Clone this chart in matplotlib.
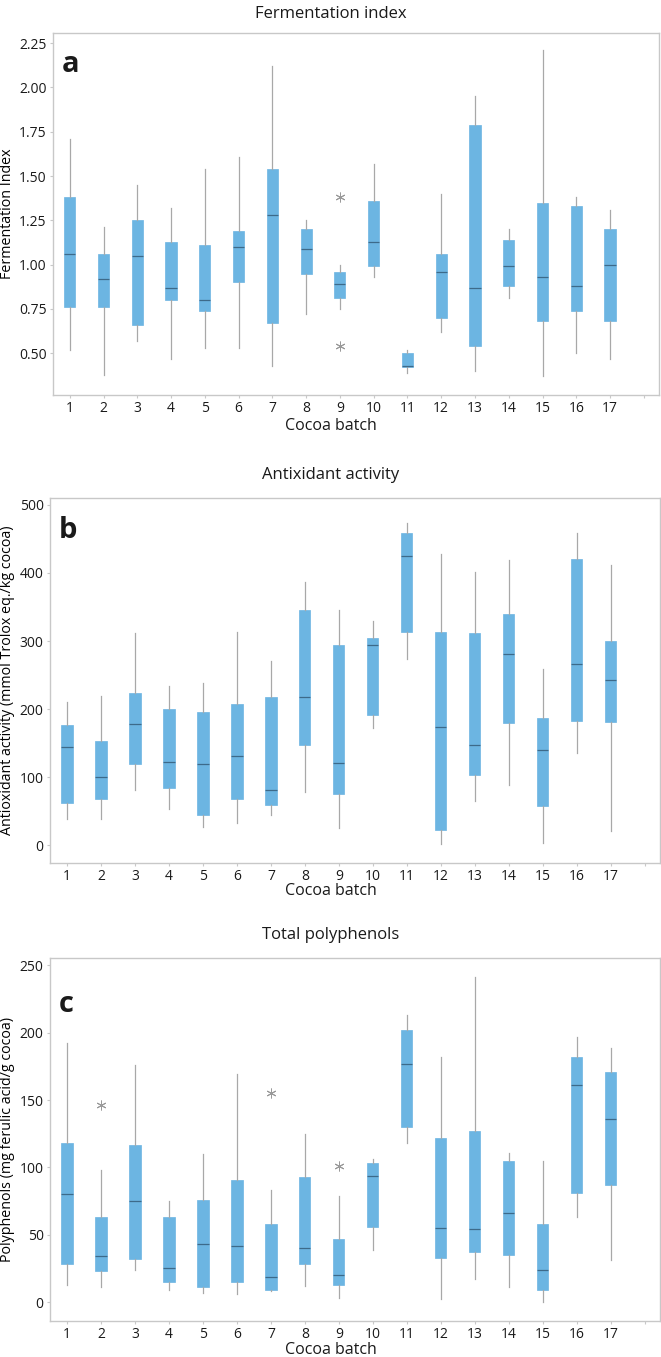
import matplotlib
matplotlib.use('Agg')
import matplotlib.pyplot as plt

batches = list(range(1, 18))

# Fermentation index: whisker low, Q1, median, Q3, whisker high
fi_wlo = [0.52, 0.38, 0.57, 0.47, 0.53, 0.53, 0.43, 0.72, 0.75, 0.93, 0.39, 0.62, 0.40, 0.81, 0.37, 0.50, 0.47]
fi_q1 = [0.76, 0.76, 0.66, 0.80, 0.74, 0.90, 0.67, 0.95, 0.81, 0.99, 0.42, 0.70, 0.54, 0.88, 0.68, 0.74, 0.68]
fi_med = [1.06, 0.92, 1.05, 0.87, 0.80, 1.10, 1.28, 1.09, 0.89, 1.13, 0.43, 0.96, 0.87, 0.99, 0.93, 0.88, 1.00]
fi_q3 = [1.38, 1.06, 1.25, 1.13, 1.11, 1.19, 1.54, 1.20, 0.96, 1.36, 0.50, 1.06, 1.79, 1.14, 1.35, 1.33, 1.20]
fi_whi = [1.71, 1.21, 1.45, 1.32, 1.54, 1.61, 2.12, 1.25, 1.00, 1.57, 0.52, 1.40, 1.95, 1.20, 2.21, 1.38, 1.31]
fi_out = {9: [1.38, 0.54]}

# Antioxidant activity
aa_wlo = [39, 39, 81, 53, 27, 33, 44, 79, 26, 173, 274, 2, 65, 88, 3, 135, 21]
aa_q1 = [62, 68, 119, 84, 44, 68, 59, 147, 75, 191, 313, 23, 103, 180, 58, 183, 181]
aa_med = [145, 101, 178, 122, 119, 131, 81, 218, 121, 294, 425, 174, 147, 281, 140, 266, 243]
aa_q3 = [177, 153, 224, 200, 196, 208, 218, 345, 294, 304, 458, 314, 312, 340, 187, 420, 300]
aa_whi = [211, 220, 312, 234, 239, 314, 271, 386, 346, 330, 473, 428, 401, 419, 259, 459, 411]
aa_out = {}

# Total polyphenols
tp_wlo = [13, 11, 24, 9, 7, 6, 8, 12, 3, 39, 118, 2, 17, 11, 0, 63, 31]
tp_q1 = [28, 23, 32, 15, 11, 15, 9, 28, 13, 56, 130, 33, 37, 35, 9, 81, 87]
tp_med = [80, 34, 75, 25, 43, 42, 19, 40, 20, 94, 177, 55, 54, 66, 24, 161, 136]
tp_q3 = [118, 63, 117, 63, 76, 91, 58, 93, 47, 103, 202, 122, 127, 105, 58, 182, 171]
tp_whi = [192, 98, 176, 75, 110, 169, 83, 125, 79, 106, 213, 182, 241, 111, 105, 197, 189]
tp_out = {2: [146], 7: [155], 9: [101]}

BOX = '#6cb5e2'
MED = '#3d6a8a'
WHISK = '#a8a8a8'
FRAME = '#c8c8c8'
FONT = 'Open Sans'

plt.rcParams['font.family'] = [FONT, 'DejaVu Sans']
plt.rcParams['text.color'] = '#1a1a1a'

fig = plt.figure(figsize=(6.61, 13.57), dpi=100)


def panel(rect, wlo, q1, med, q3, whi, out, ylim, yticks, yfmt, ylabel, letter, lety, labx):
    ax = fig.add_axes(rect)
    stats = []
    for i in range(len(batches)):
        stats.append(dict(whislo=wlo[i], q1=q1[i], med=med[i], q3=q3[i],
                          whishi=whi[i], fliers=out.get(batches[i], [])))
    ax.bxp(stats, positions=batches, widths=0.33, patch_artist=True,
           showcaps=False,
           boxprops=dict(facecolor=BOX, edgecolor=BOX, linewidth=0.5),
           medianprops=dict(color=MED, linewidth=0.9),
           whiskerprops=dict(color=WHISK, linewidth=0.9),
           flierprops=dict(marker=(6, 2, 0), markersize=7, markeredgecolor='#9a9a9a',
                           markeredgewidth=0.7, linestyle='none'))
    ax.set_xlim(0.5, 18.45)
    ax.set_ylim(*ylim)
    ax.set_xticks(list(batches) + [18])
    ax.set_xticklabels([str(b) for b in batches] + [''], fontsize=10)
    ax.set_yticks(yticks)
    ax.set_yticklabels([yfmt.format(v) for v in yticks], fontsize=10)
    ax.tick_params(length=2, color=FRAME, pad=2.5, labelcolor='#1a1a1a')
    for s in ax.spines.values():
        s.set_color(FRAME)
        s.set_linewidth(1.0)
    ax.set_ylabel(ylabel, fontsize=10.3)
    ax.yaxis.set_label_coords(labx, 0.5)
    ax.text(0.014, lety, letter, transform=ax.transAxes, fontsize=21,
            fontweight='bold', va='baseline', ha='left')
    return ax


panel([0.080, 0.709, 0.917, 0.267], fi_wlo, fi_q1, fi_med, fi_q3, fi_whi, fi_out,
      (0.265, 2.31), [0.50, 0.75, 1.00, 1.25, 1.50, 1.75, 2.00, 2.25], '{:.2f}',
      'Fermentation Index', 'a', 0.892, -0.062)
panel([0.0756, 0.364, 0.923, 0.269], aa_wlo, aa_q1, aa_med, aa_q3, aa_whi, aa_out,
      (-26, 510), [0, 100, 200, 300, 400, 500], '{:d}',
      'Antioxidant activity (mmol Trolox eq./kg cocoa)', 'b', 0.89, -0.057)
panel([0.0756, 0.0265, 0.923, 0.2675], tp_wlo, tp_q1, tp_med, tp_q3, tp_whi, tp_out,
      (-14, 255.4), [0, 50, 100, 150, 200, 250], '{:d}',
      'Polyphenols (mg ferulic acid/g cocoa)', 'c', 0.851, -0.057)

titles = [('Fermentation index', 14), ('Antixidant activity', 475), ('Total polyphenols', 935)]
for t, y in titles:
    fig.text(0.5, 1 - y / 1357, t, ha='center', va='center', fontsize=12)
for y in [426, 891, 1350]:
    fig.text(0.5, 1 - y / 1357, 'Cocoa batch', ha='center', va='center', fontsize=11.5)

fig.savefig('out.png', dpi=100)
